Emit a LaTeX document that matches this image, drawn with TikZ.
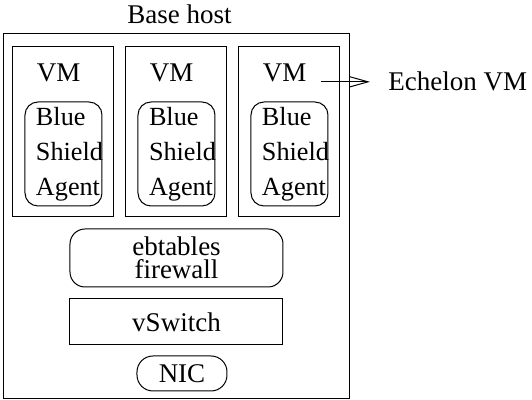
\documentclass[tikz,border=0pt]{standalone}
\usepackage{fontspec}
\setmainfont{Liberation Serif}
\usetikzlibrary{arrows.meta,positioning}

\begin{document}
\begin{tikzpicture}[
  x=1pt, y=-1pt,
  node distance=5.5pt,
  every node/.style={font=\fontsize{13.5pt}{15pt}\selectfont},
  hostbox/.style={draw, line width=0.5pt, minimum width=173.5pt, minimum height=182.5pt, inner sep=0pt},
  vmbox/.style={draw, line width=0.5pt, minimum width=50.5pt, minimum height=85pt, inner sep=0pt},
  agentbox/.style={draw, line width=0.5pt, rounded corners=6.5pt, minimum width=38.5pt, minimum height=52pt, text width=27.5pt, inner xsep=5.5pt, inner ysep=0pt, align=left, font=\fontsize{13.1pt}{17.5pt}\selectfont},
  fwbox/.style={draw, line width=0.5pt, rounded corners=7.5pt, minimum width=106.5pt, minimum height=29pt, inner sep=0pt, align=center, font=\fontsize{13.5pt}{11.3pt}\selectfont},
  switchbox/.style={draw, line width=0.5pt, minimum width=106.5pt, minimum height=23pt, inner sep=0pt},
  nicbox/.style={draw, line width=0.5pt, rounded corners=8pt, minimum width=45pt, minimum height=17.5pt, inner sep=0pt},
  tag/.style={inner sep=0pt},
  arrow/.style={-{Straight Barb[length=9pt,width=5pt]}, line width=0.5pt}
]
\useasboundingbox (0,0) rectangle (266,200);

\node[hostbox] (host) at (88.25,108.25) {};
\node[tag, anchor=base] (hostname) at ([xshift=1.5pt,yshift=5pt]host.north) {Base host};

\node[vmbox] (vm2) at (88.25,66) {};
\node[vmbox, left=of vm2] (vm1) {};
\node[vmbox, right=of vm2] (vm3) {};
\foreach \i in {1,2,3} {
  \node[tag, anchor=base west] (vmname\i) at ([xshift=12pt,yshift=-17.5pt]vm\i.north west) {VM};
  \node[agentbox] (agent\i) at ([yshift=-11pt]vm\i.center) {Blue\\\mbox{Shield}\\\mbox{Agent}};
}

\node[fwbox, below=of vm2] (firewall) {ebtables\\firewall};
\node[switchbox, below=of firewall] (vswitch) {vSwitch};
\node[nicbox, below=5pt of vswitch, xshift=2.75pt] (nic) {NIC};

\node[tag, anchor=base west] (echelon) at (194,45.5) {Echelon VM};
\draw[arrow, shorten <=7pt, shorten >=9pt] (vmname3.east |- echelon.west) -- (echelon.west);
\end{tikzpicture}
\end{document}
